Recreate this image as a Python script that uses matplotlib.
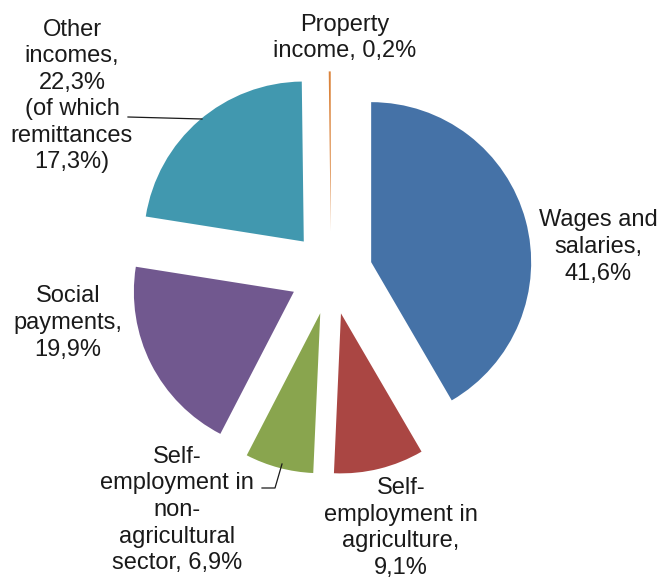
import matplotlib
matplotlib.use("Agg")
import matplotlib.pyplot as plt

categories = ["Wages and\nsalaries,\n41,6%",
              "Self-\nemployment in\nagriculture,\n9,1%",
              "Self-\nemployment in\nnon-\nagricultural\nsector, 6,9%",
              "Social\npayments,\n19,9%",
              "Other\nincomes,\n22,3%\n(of which\nremittances\n17,3%)",
              "Property\nincome, 0,2%"]
values = [41.6, 9.1, 6.9, 19.9, 22.3, 0.2]
colors = ["#4572A7", "#AA4643", "#89A54E", "#71588F", "#4198AF", "#DB843D"]

W, H = 661, 579
CX, CY, R = 331, 273, 160

fig = plt.figure(figsize=(W / 100, H / 100), dpi=100)
ax = fig.add_axes([0, 0, 1, 1])

ax.pie(values, colors=colors, startangle=90, counterclock=False,
       explode=[0.26] * len(values), radius=1.0,
       wedgeprops=dict(linewidth=0))

ax.set_aspect("auto")
ax.set_xlim(-CX / R, (W - CX) / R)
ax.set_ylim(-(H - CY) / R, CY / R)
ax.axis("off")

def px(x, y):
    return (x - CX) / R, (CY - y) / R

label_pos = [(598, 247), (401, 528), (177, 510), (68, 323), (72, 96), (345, 38)]
for txt, (x, y) in zip(categories, label_pos):
    ax.text(*px(x, y), txt, ha="center", va="center", fontsize=17,
            family="Liberation Sans", color="#1a1a1a", linespacing=1.27)

# leader lines
for pts in [[(128, 117), (202, 119)], [(262, 488), (275, 488), (282, 464)]]:
    xs, ys = zip(*[px(a, b) for a, b in pts])
    ax.plot(xs, ys, color="#1a1a1a", linewidth=0.9)

fig.savefig("out.png", dpi=100)
